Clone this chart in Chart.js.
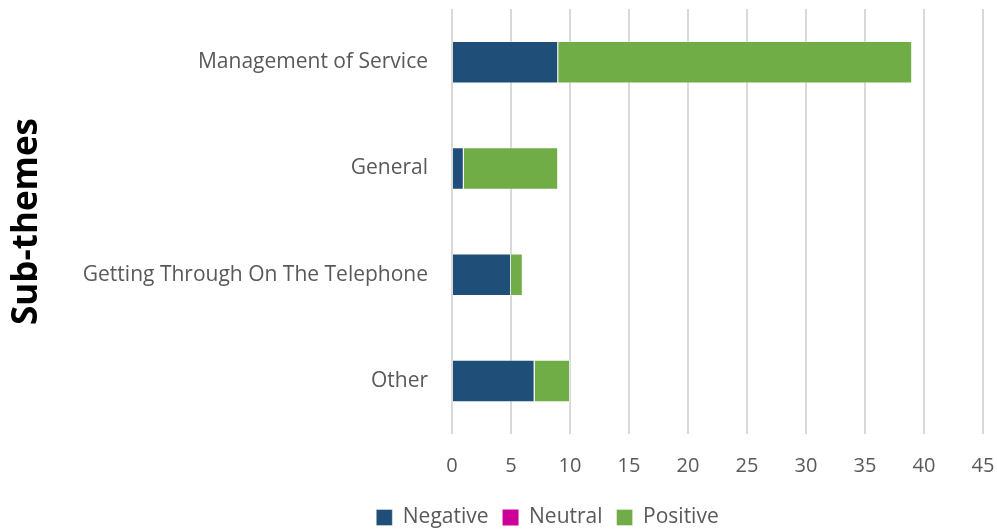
<!DOCTYPE html>
<html>
<head>
<meta charset="utf-8">
<script src="https://cdn.jsdelivr.net/npm/chart.js@4/dist/chart.umd.min.js"></script>
<style>
  html, body { margin: 0; padding: 0; background: #fff; }
  canvas { display: block; }
</style>
</head>
<body>
<canvas id="c" width="997" height="529"></canvas>
<script>
// Sub-theme categories and comment counts by sentiment
const categories = ['Management of Service', 'General', 'Getting Through On The Telephone', 'Other'];
const negative = [9, 1, 5, 7];
const neutral = [0, 0, 0, 0];
const positive = [30, 8, 1, 3];
const xTicks = [0, 5, 10, 15, 20, 25, 30, 35, 40, 45];

const FONT = '"Open Sans", Lato, sans-serif';
const TEXT = '#595959';

// Nudge the legend block right and down under the plot
const legendOffset = {
  id: 'legendOffset',
  afterLayout(chart) {
    const lg = chart.legend;
    if (!lg) return;
    lg.left += 56; lg.right += 56;
    lg.top += 9; lg.bottom += 9;
  }
};

new Chart(document.getElementById('c'), {
  type: 'bar',
  data: {
    labels: categories,
    datasets: [
      { label: 'Negative', data: negative, backgroundColor: '#1F4E79', borderColor: 'rgba(255,255,255,0.35)', borderWidth: 1 },
      { label: 'Neutral', data: neutral, backgroundColor: '#CC0099', borderWidth: 0 },
      { label: 'Positive', data: positive, backgroundColor: '#70AD47', borderColor: 'rgba(255,255,255,0.35)', borderWidth: 1 }
    ]
  },
  options: {
    indexAxis: 'y',
    responsive: false,
    animation: false,
    layout: { padding: { top: 9, right: 14, left: 0, bottom: 0 } },
    datasets: { bar: { barPercentage: 0.4, categoryPercentage: 1.0 } },
    plugins: {
      legend: {
        position: 'bottom',
        labels: {
          font: { family: FONT, size: 21 },
          color: TEXT,
          boxWidth: 16,
          boxHeight: 16,
          padding: 14
        }
      },
      tooltip: { enabled: false }
    },
    scales: {
      x: {
        stacked: true,
        min: 0,
        max: 45,
        afterBuildTicks: (s) => { s.ticks = xTicks.map(v => ({ value: v })); },
        afterFit: (s) => { s.height = 50; s.paddingLeft = 0; s.paddingRight = 0; },
        grid: { color: '#D9D9D9', lineWidth: 2, drawTicks: false },
        border: { display: false },
        ticks: { font: { family: FONT, size: 20 }, color: TEXT, padding: 20 }
      },
      y: {
        stacked: true,
        afterFit: (s) => { s.width = 452; s.paddingTop = 0; s.paddingBottom = 0; },
        grid: { display: false, drawTicks: false },
        border: { display: false },
        ticks: { font: { family: FONT, size: 21 }, color: TEXT, padding: 24 },
        title: {
          display: true,
          text: 'Sub-themes',
          font: { family: FONT, size: 35, weight: 'bold' },
          color: '#000',
          padding: { top: 6, bottom: 0 }
        }
      }
    }
  },
  plugins: [legendOffset]
});
</script>
</body>
</html>
